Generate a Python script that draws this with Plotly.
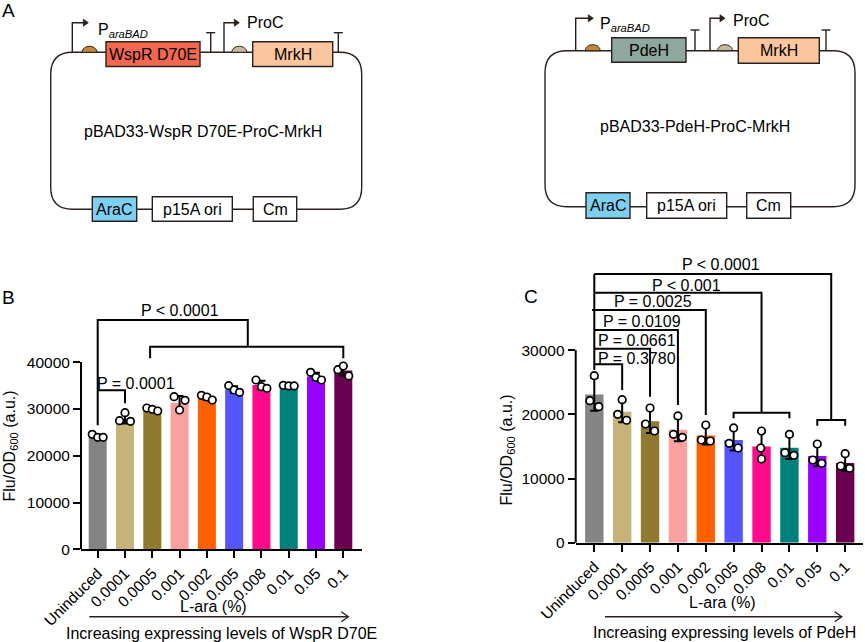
import plotly.graph_objects as go

W, H = 865, 642
FONT = "Liberation Sans, Arial, sans-serif"
LINE = "#2A211C"

# ---------------- data ----------------
categories = ["Uninduced", "0.0001", "0.0005", "0.001", "0.002",
              "0.005", "0.008", "0.01", "0.05", "0.1"]
bar_colors = ["#848484", "#C5B37A", "#8F7A30", "#F9A0A0", "#FF6000",
              "#5555FF", "#FF0A8A", "#00807B", "#9900FF", "#6C0050"]

# Panel B (WspR D70E)
b_mean = [24100, 27900, 29900, 31300, 32400, 34100, 35100, 34900, 36900, 38200]
b_sd = [370, 1030, 320, 1470, 510, 720, 940, 80, 840, 1080]
b_rep1 = [24570, 27480, 30190, 32610, 32900, 34960, 36170, 35040, 37820, 38380]
b_rep2 = [23930, 29190, 29910, 29760, 32540, 34040, 34740, 34900, 36750, 39170]
b_rep3 = [23930, 27350, 29550, 31840, 31900, 33540, 34390, 34900, 36170, 37040]

# Panel C (PdeH)
c_mean = [23100, 20400, 18900, 17600, 16700, 16000, 15000, 14800, 13500, 12400]
c_sd = [2560, 1650, 1830, 1800, 1390, 1630, 2200, 1780, 1610, 1230]
c_rep1 = [22120, 20000, 18490, 16880, 16000, 15480, 14750, 14020, 12880, 11950]
c_rep2 = [26010, 22280, 20980, 19740, 18330, 17870, 17400, 16880, 15370, 13870]
c_rep3 = [21180, 19070, 17400, 16420, 15840, 14750, 13040, 13610, 12360, 11590]

y_ticks = [0, 10000, 20000, 30000, 40000]
c_y_ticks = [0, 10000, 20000, 30000]

# ---------------- helpers ----------------
shapes = []
annotations = []


def X(px):
    return px / W


def Y(py):
    return 1 - py / H


def pline(x0, y0, x1, y1, w=1.4, color=LINE):
    shapes.append(dict(type="line", xref="paper", yref="paper",
                       x0=X(x0), y0=Y(y0), x1=X(x1), y1=Y(y1),
                       line=dict(color=color, width=w)))


def prect(x0, y0, x1, y1, fill):
    shapes.append(dict(type="rect", xref="paper", yref="paper",
                       x0=X(x0), y0=Y(y0), x1=X(x1), y1=Y(y1),
                       fillcolor=fill, line=dict(color=LINE, width=1.4)))


def ppath(d, fill=None, w=1.4):
    s = dict(type="path", xref="paper", yref="paper", path=d,
             line=dict(color=LINE, width=w))
    if fill:
        s["fillcolor"] = fill
    shapes.append(s)


def P(x, y):
    return f"{X(x):.5f},{Y(y):.5f}"


def ptext(text, x, y, size=16, xanchor="center", yanchor="middle", angle=0, color="black"):
    annotations.append(dict(text=text, x=X(x), y=Y(y), xref="paper", yref="paper",
                            showarrow=False, xanchor=xanchor, yanchor=yanchor,
                            textangle=angle, font=dict(family=FONT, size=size, color=color)))


def rounded_rect(x0, y0, x1, y1, r):
    d = (f"M {P(x0 + r, y0)} L {P(x1 - r, y0)} Q {P(x1, y0)} {P(x1, y0 + r)} "
         f"L {P(x1, y1 - r)} Q {P(x1, y1)} {P(x1 - r, y1)} "
         f"L {P(x0 + r, y1)} Q {P(x0, y1)} {P(x0, y1 - r)} "
         f"L {P(x0, y0 + r)} Q {P(x0, y0)} {P(x0 + r, y0)} Z")
    ppath(d, fill="rgba(0,0,0,0)")


def rbs(cx, cy, fill, rx=7.5, ry=6.0):
    k = 0.5523
    d = (f"M {P(cx - rx, cy)} C {P(cx - rx, cy - k * ry)} {P(cx - k * rx, cy - ry)} {P(cx, cy - ry)} "
         f"C {P(cx + k * rx, cy - ry)} {P(cx + rx, cy - k * ry)} {P(cx + rx, cy)} Z")
    ppath(d, fill=fill, w=1.0)


def promoter(x, ybase, ytop, xend):
    ppath(f"M {P(x, ybase)} L {P(x, ytop)} L {P(xend - 4, ytop)}", w=1.4)
    ppath(f"M {P(xend - 5, ytop - 3.5)} L {P(xend, ytop)} L {P(xend - 5, ytop + 3.5)} Z",
          fill=LINE, w=0.8)


def terminator(x, ybase, ytop):
    pline(x, ybase, x, ytop)
    pline(x - 4.5, ytop, x + 4.5, ytop)


def plasmid(spec):
    bx0, by0, bx1, by1 = spec["backbone"]
    rounded_rect(bx0, by0, bx1, by1, 22)
    px_, ptop, pend = spec["prom1"]
    promoter(px_, by0, ptop, pend)
    ptext("P<sub><i>araBAD</i></sub>", spec["ptext"][0], spec["ptext"][1], xanchor="left")
    rbs(spec["rbs1"], by0, "#C08838")
    g0, g1, gy0, gy1, gfill, gname = spec["gene1"]
    prect(g0, gy0, g1, gy1, gfill)
    ptext(gname, (g0 + g1) / 2, (gy0 + gy1) / 2 + 0.5)
    terminator(spec["term1"], by0, spec["termtop"])
    qx, qtop, qend = spec["prom2"]
    promoter(qx, by0, qtop, qend)
    ptext("ProC", spec["proctext"][0], spec["proctext"][1], xanchor="left")
    rbs(spec["rbs2"], by0, "#C9B99B")
    m0, m1, my0, my1 = spec["mrkh"]
    prect(m0, my0, m1, my1, "#FBC59E")
    ptext("MrkH", (m0 + m1) / 2, (my0 + my1) / 2 + 0.5)
    terminator(spec["term2"], by0, spec["termtop"])
    ptext(spec["name"], spec["namepos"][0], spec["namepos"][1])
    ly0, ly1 = spec["low_y"]
    for (a0, a1, fill, name) in spec["low"]:
        prect(a0, ly0, a1, ly1, fill)
        ptext(name, (a0 + a1) / 2, (ly0 + ly1) / 2 + 0.5)


plasmid(dict(
    backbone=(50.7, 52.3, 361.7, 209.3),
    prom1=(72.3, 22.7, 88.3), ptext=(95.5, 30.5), rbs1=89.5,
    gene1=(106, 200, 41.7, 66.5, "#F2684F", "WspR D70E"),
    term1=210.7, termtop=32.7,
    prom2=(224, 22.7, 239.3), proctext=(245, 22.5), rbs2=239.3,
    mrkh=(252.7, 332.7, 41.7, 66.5), term2=338.3,
    name="pBAD33-WspR D70E-ProC-MrkH", namepos=(203.3, 131.7),
    low_y=(196.7, 221.3),
    low=[(92.3, 136.7, "#7DD0F0", "AraC"), (152.3, 232.3, "white", "p15A ori"),
         (253.3, 296.7, "white", "Cm")],
))

plasmid(dict(
    backbone=(545, 50.7, 855, 206.7),
    prom1=(575.7, 18.3, 593.3), ptext=(598, 25), rbs1=592.7,
    gene1=(611.7, 686, 37.7, 62.3, "#8FA79E", "PdeH"),
    term1=695, termtop=30,
    prom2=(710, 18.3, 725), proctext=(731, 21), rbs2=725,
    mrkh=(738.3, 819.3, 37.7, 63.3), term2=826,
    name="pBAD33-PdeH-ProC-MrkH", namepos=(695, 126.7),
    low_y=(192.7, 218.3),
    low=[(586, 630, "#7DD0F0", "AraC"), (646.7, 726.7, "white", "p15A ori"),
         (746.7, 790.7, "white", "Cm")],
))

# panel letters
ptext("A", 8.5, 11, size=19)
ptext("B", 8, 297, size=19)
ptext("C", 531, 296, size=19)

# ---------------- bar charts ----------------
fig = go.Figure()

JIT_B = [-0.2, 0.0, 0.2]
JIT_C = [[-0.16, 0.0, 0.16]] * 10
JIT_C[6] = [-0.03, 0.0, 0.0]


def add_panel(xa, ya, means, sds, reps, jit):
    xs = list(range(len(categories)))
    fig.add_trace(go.Bar(
        x=xs, y=means, width=0.66, marker=dict(color=bar_colors, line=dict(width=0)),
        error_y=dict(type="data", array=sds, visible=True, color="black",
                     thickness=2, width=4),
        xaxis=xa, yaxis=ya, showlegend=False, hoverinfo="skip"))
    px_, py_ = [], []
    for r, rep in enumerate(reps):
        for i, v in enumerate(rep):
            off = jit[i][r] if isinstance(jit[0], list) else jit[r]
            px_.append(i + off)
            py_.append(v)
    fig.add_trace(go.Scatter(
        x=px_, y=py_, mode="markers",
        marker=dict(symbol="circle", size=7.5, color="white",
                    line=dict(color="black", width=1.7)),
        xaxis=xa, yaxis=ya, showlegend=False, hoverinfo="skip"))


add_panel("x", "y", b_mean, b_sd, [b_rep1, b_rep2, b_rep3], JIT_B)
add_panel("x2", "y2", c_mean, c_sd, [c_rep1, c_rep2, c_rep3], JIT_C)

YMAX_B = 54000
YMAX_C = 45000

axis_common = dict(showgrid=False, zeroline=False, ticks="outside", ticklen=7,
                   tickwidth=2, tickcolor="black", automargin=False,
                   tickfont=dict(family=FONT, size=15.5, color="black"))

xb = dict(axis_common, domain=[81 / W, 361.7 / W], range=[-0.612, 9.674],
          tickvals=list(range(10)), ticktext=categories, tickangle=-45,
          showline=True, linewidth=2, linecolor="black", anchor="y")
yb = dict(axis_common, domain=[1 - 549.3 / H, 1 - (549.3 - 5.4 * 46.8) / H],
          range=[0, YMAX_B], tickvals=y_ticks, tickformat="d", showline=False,
          anchor="x")
xc = dict(axis_common, domain=[575.7 / W, 863 / W], range=[-0.667, 9.64],
          tickvals=list(range(10)), ticktext=categories, tickangle=-45,
          showline=True, linewidth=2, linecolor="black", anchor="y2")
yc = dict(axis_common, domain=[1 - 542.7 / H, 1 - (542.7 - 4.5 * 64.2) / H],
          range=[0, YMAX_C], tickvals=c_y_ticks, tickformat="d", showline=False,
          anchor="x2")

# y-axis lines only up to the last tick
shapes.append(dict(type="line", xref="x domain", yref="y domain", x0=0, x1=0,
                   y0=0, y1=y_ticks[-1] / YMAX_B, line=dict(color="black", width=2)))
shapes.append(dict(type="line", xref="x2 domain", yref="y2 domain", x0=0, x1=0,
                   y0=0, y1=c_y_ticks[-1] / YMAX_C, line=dict(color="black", width=2)))


def bracket(xa, ya, pts):
    d = "M " + " L ".join(f"{x},{y}" for x, y in pts)
    shapes.append(dict(type="path", xref=xa, yref=ya, path=d,
                       line=dict(color="black", width=2)))


def plabel(xa, ya, text, x, y):
    annotations.append(dict(text=text, x=x, y=y, xref=xa, yref=ya, showarrow=False,
                            xanchor="center", yanchor="middle",
                            font=dict(family=FONT, size=16, color="black")))


# panel B significance brackets
bracket("x", "y", [(0, 26500), (0, 49000), (5.5, 49000), (5.5, 43300)])
bracket("x", "y", [(1.92, 40800), (1.92, 43300), (9, 43300), (9, 40800)])
bracket("x", "y", [(0, 34000), (1, 34000), (1, 31200)])
plabel("x", "y", "P < 0.0001", 3.0, 51130)
plabel("x", "y", "P = 0.0001", 1.40, 35470)

# panel C significance brackets
bracket("x2", "y2", [(0, 26900), (0, 41850)])
bracket("x2", "y2", [(0, 27790), (1, 27790), (1, 23790)])
bracket("x2", "y2", [(0, 30220), (2, 30220), (2, 22740)])
bracket("x2", "y2", [(0, 33130), (3, 33130), (3, 21450)])
bracket("x2", "y2", [(-0.08, 36250), (4, 36250), (4, 19890)])
bracket("x2", "y2", [(0, 38940), (6, 38940), (6, 20250)])
bracket("x2", "y2", [(5, 19380), (5, 20250), (7, 20250), (7, 19380)])
bracket("x2", "y2", [(0, 41850), (8.5, 41850), (8.5, 19110)])
bracket("x2", "y2", [(8, 18220), (8, 19110), (9, 19110), (9, 18220)])
for text, x, y in [("P < 0.0001", 4.54, 43260), ("P < 0.001", 3.32, 40140),
                   ("P = 0.0025", 2.11, 37540), ("P = 0.0109", 1.70, 34420),
                   ("P = 0.0661", 1.52, 31570), ("P = 0.3780", 1.52, 28720)]:
    plabel("x2", "y2", text, x, y)

# axis titles and arrows
ptext("Flu/OD<sub>600</sub> (a.u.)", 9.5, 446, size=16, angle=-90)
ptext("Flu/OD<sub>600</sub> (a.u.)", 506.5, 450, size=16, angle=-90)
ptext("L-ara (%)", 213, 606, size=16)
ptext("L-ara (%)", 722.5, 602, size=16)
ptext("Increasing expressing levels of WspR D70E", 222, 633, size=16)
ptext("Increasing expressing levels of PdeH", 724, 632.7, size=16)


def arrow(x0, x1, y):
    ppath(f"M {P(x0, y)} L {P(x1, y)}", w=1.4)
    ppath(f"M {P(x1 - 7, y - 5)} L {P(x1, y)} L {P(x1 - 7, y + 5)}", w=1.4)


arrow(89.3, 348.3, 616.7)
arrow(605, 841.7, 616.7)

fig.update_layout(
    width=W, height=H, autosize=False,
    margin=dict(l=0, r=0, t=0, b=0, pad=0),
    paper_bgcolor="white", plot_bgcolor="white",
    font=dict(family=FONT, color="black"),
    xaxis=xb, yaxis=yb, xaxis2=xc, yaxis2=yc,
    shapes=shapes, annotations=annotations,
    showlegend=False,
)

fig.write_html(
    "out.html",
    config={"displayModeBar": False},
    post_script="document.body.style.margin='0px';document.body.style.overflow='hidden';",
)
